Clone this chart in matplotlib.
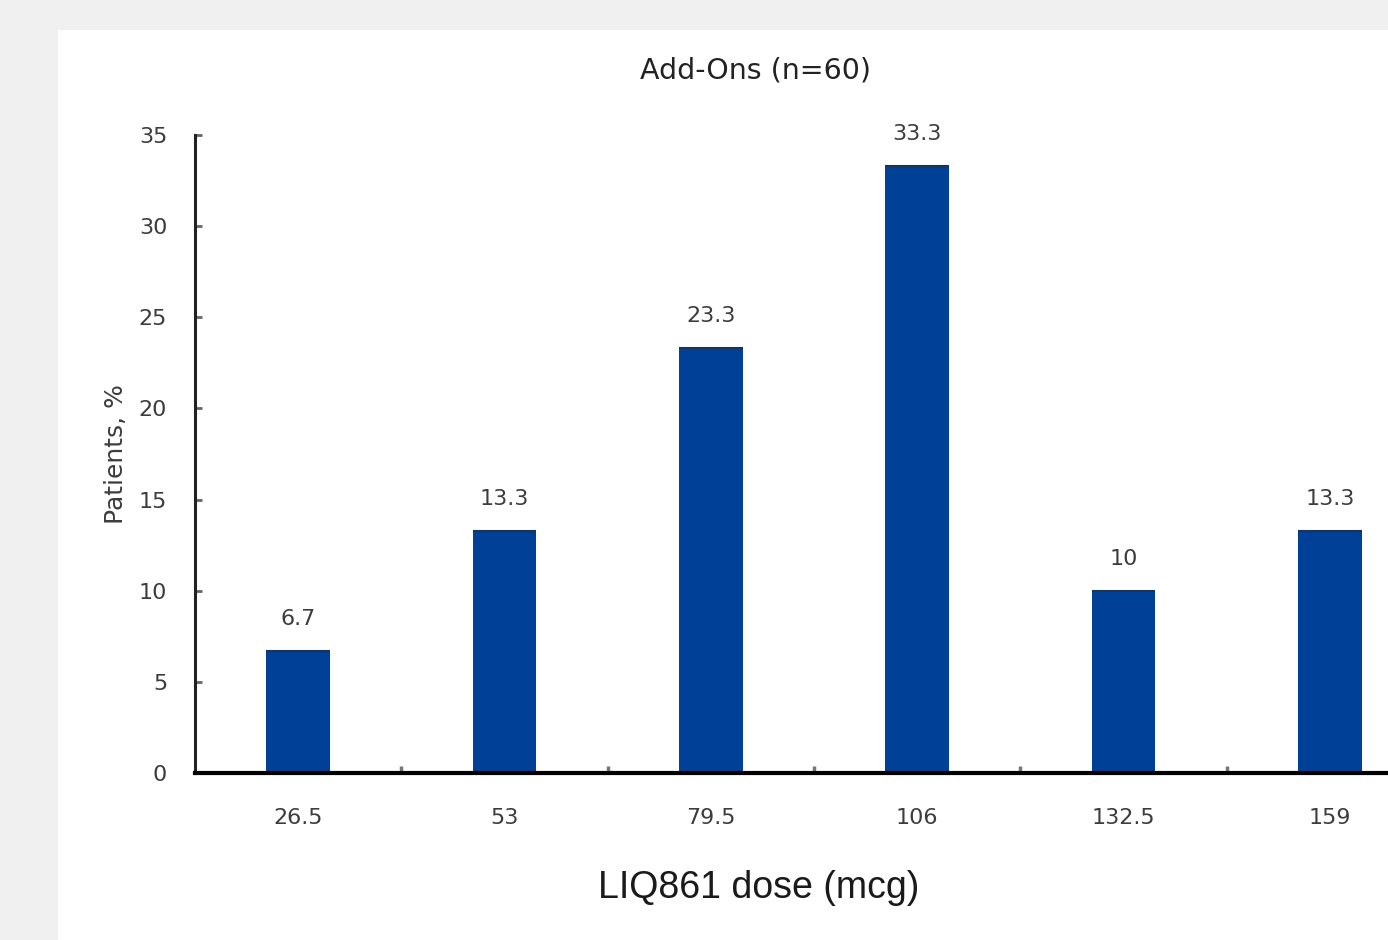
import numpy as np
import matplotlib
matplotlib.use('Agg')
from matplotlib import pyplot as plt
from matplotlib.patches import Rectangle

# data
doses = ['26.5', '53', '79.5', '106', '132.5', '159']
patients_pct = [6.7, 13.3, 23.3, 33.3, 10, 13.3]
value_labels = ['6.7', '13.3', '23.3', '33.3', '10', '13.3']
y_ticks = [0, 5, 10, 15, 20, 25, 30, 35]

bar_color = '#004097'
text_gray = '#3c3c3c'

fig = plt.figure(figsize=(13.88, 9.40), dpi=100)
fig.patch.set_facecolor('#f1f0f0')
# white panel behind the chart
fig.patches.append(Rectangle((58 / 1388, 0), 1 - 58 / 1388, 1 - 30 / 940,
                             transform=fig.transFigure, facecolor='white',
                             edgecolor='none', zorder=-10))

ax = fig.add_axes([195 / 1388, 1 - 773 / 940, 1238 / 1388, 638 / 940])
ax.set_facecolor('none')

x = np.arange(len(doses))
bars = ax.bar(x, patients_pct, width=0.31, color=bar_color,
              edgecolor='none', zorder=2)
for b, lab in zip(bars, value_labels):
    ax.plot([b.get_x(), b.get_x() + b.get_width()], [b.get_height()] * 2,
            color='#1c3450', lw=1.5, zorder=3, solid_capstyle='butt')
    ax.text(b.get_x() + b.get_width() / 2, b.get_height() + 1.2, lab,
            ha='center', va='bottom', fontsize=16, color=text_gray)

ax.set_xlim(-0.5, len(doses) - 0.5)
ax.set_ylim(0, 35)
ax.set_yticks(y_ticks)
ax.set_xticks(x)
ax.set_xticklabels(doses)
ax.set_xticks(x[:-1] + 0.5, minor=True)

for s in ['top', 'right']:
    ax.spines[s].set_visible(False)
ax.spines['left'].set_linewidth(2.2)
ax.spines['left'].set_color('#222222')
ax.spines['bottom'].set_linewidth(3)
ax.spines['bottom'].set_color('black')
ax.spines['bottom'].set_zorder(4)

ax.tick_params(axis='y', direction='in', length=5, width=2, color='#666666',
               labelsize=16, labelcolor=text_gray, pad=20)
ax.tick_params(axis='x', which='major', length=0, labelsize=16,
               labelcolor=text_gray, pad=25)
ax.tick_params(axis='x', which='minor', direction='in', length=5, width=2.5,
               color='#777777')

ax.set_ylabel('Patients, %', fontsize=18, color=text_gray, labelpad=8)

fig.text(755 / 1388, 1 - 70 / 940, 'Add-Ons (n=60)', ha='center', va='center',
         fontsize=20.5, color='#222222')
fig.text(759 / 1388, 1 - 888 / 940, 'LIQ861 dose (mcg)', ha='center',
         va='center', fontsize=27, color='#1a1a1a', family='Liberation Sans')

fig.savefig('out.png', dpi=100, facecolor=fig.get_facecolor())
